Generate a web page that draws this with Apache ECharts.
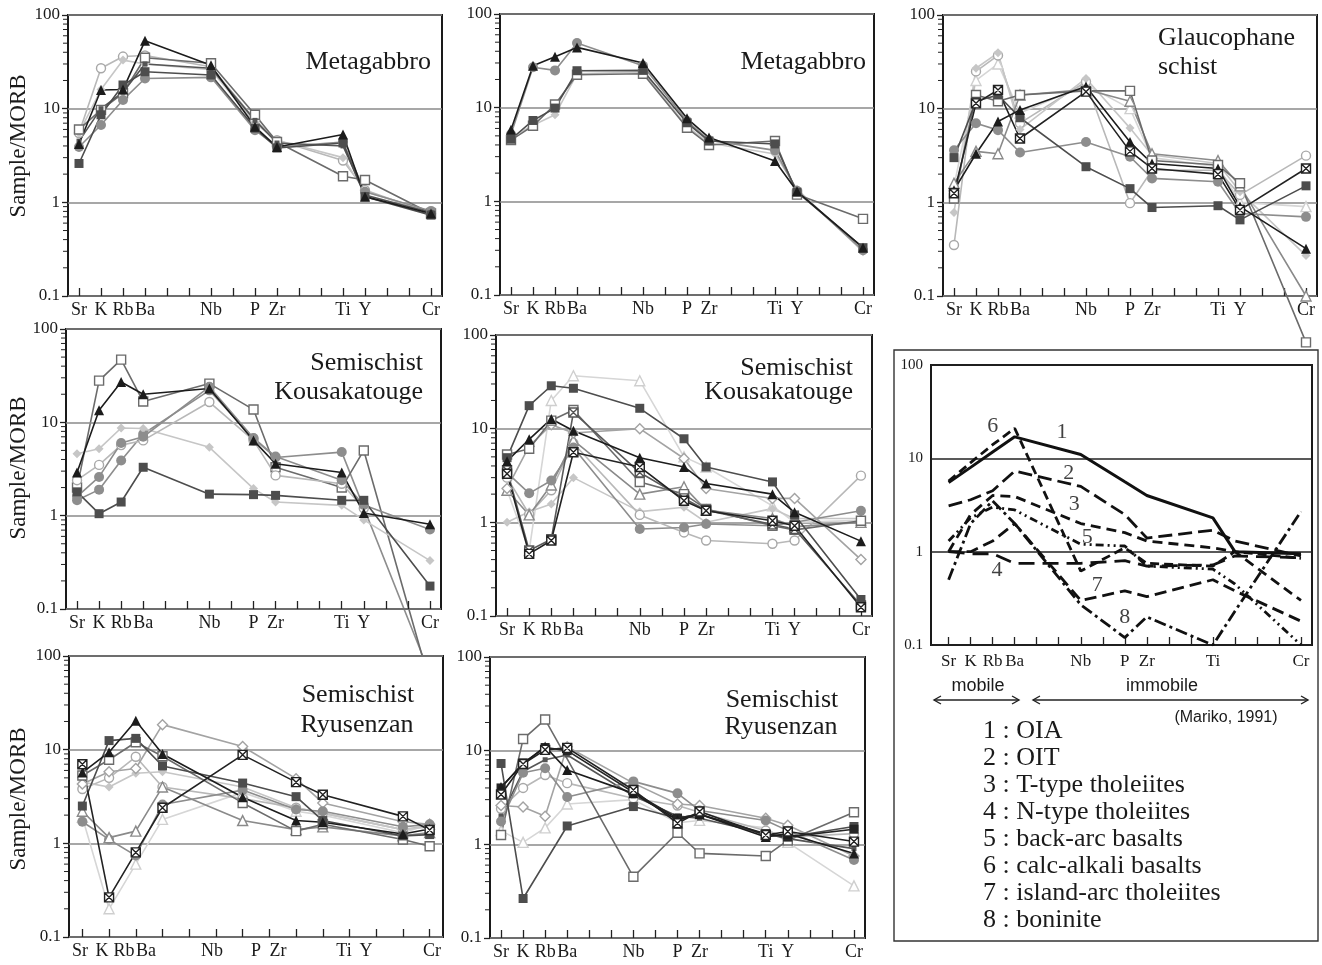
<!DOCTYPE html>
<html>
<head>
<meta charset="utf-8">
<title>MORB-normalized spider diagrams</title>
<script src="https://cdn.jsdelivr.net/npm/echarts@6/dist/echarts.min.js"></script>
<style>
html, body { margin: 0; padding: 0; background: #fff; }
#main { width: 1322px; height: 965px; }
</style>
</head>
<body>
<div id="main"></div>
<script>
// ---- axis layout data ----
var elements = ['Sr', 'K', 'Rb', 'Ba', 'Nb', 'P', 'Zr', 'Ti', 'Y', 'Cr'];
var elemSlots = [0, 1, 2, 3, 6, 8, 9, 12, 13, 16];
var refLabelSlots = [0, 1, 2, 3, 6, 8, 9, 12, 16];      // no Y label on the reference plot
var ryuSlots = [0, 1, 2, 3, 6, 8, 9, 12, 13];           // lower-left panel sits on a 14 slot axis
var ticks17 = [0, 1, 2, 3, 4, 5, 6, 7, 8, 9, 10, 11, 12, 13, 14, 15, 16];
var ticks14 = [0, 1, 2, 3, 4, 5, 6, 7, 8, 9, 10, 11, 12, 13];
var minorTicks = [0.2, 0.3, 0.4, 0.5, 0.6, 0.7, 0.8, 0.9, 2, 3, 4, 5, 6, 7, 8, 9, 20, 30, 40, 50, 60, 70, 80, 90];

// ---- Metagabbro (left) : Sr K Rb Ba Nb P Zr Ti Y Cr ----
var mg1Tri = [4.2, 15.8, 16, 53, 29, 6.4, 3.9, 5.3, 1.15, 0.76];
var mg1Sq  = [2.6, 8.6, 17.9, 24.8, 22.9, 6.2, 3.8, 4.3, 1.15, 0.73];
var mg1Ci  = [3.9, 6.7, 12.4, 21, 21.6, 5.9, 3.9, 4.4, 1.3, 0.81];
var mg1OSq = [6.0, 9.7, 14.6, 35, 30.5, 8.6, 4.4, 1.9, 1.73, 0.76];
var mg1OCi = [5.5, 27, 36, 37, 28, 7.6, 4.6, 2.8, 1.35, 0.76];
var mg1Dia = [5.5, 16, 33, 30, 26, 7.0, 4.6, 3.0, 1.3, 0.8];
var mg1Gy  = [4.5, 10, 15, 30, 27, 7.5, 4.3, 4.0, 1.2, 0.78];

// ---- Metagabbro (middle) ----
var mg2Tri = [5.8, 28, 35, 44, 30, 7.7, 4.8, 2.7, 1.28, 0.32];
var mg2Ci  = [5.2, 27, 25, 49, 28, 7.2, 4.5, 3.5, 1.3, 0.3];
var mg2Sq  = [4.6, 7.3, 9.9, 24.8, 25, 6.9, 4.4, 4.1, 1.25, 0.32];
var mg2OSq = [4.5, 6.4, 10.8, 22.5, 23, 6.1, 4.0, 4.4, 1.18, 0.65];
var mg2Dia = [4.8, 6.5, 8.4, 23, 24, 6.3, 4.2, 3.2, 1.35, 0.29];

// ---- Glaucophane schist ----
var gsXSq  = [1.25, 11.4, 15.8, 4.8, 15.2, 3.5, 2.3, 2.0, 0.83, 2.3];
var gsTri  = [1.35, 3.3, 7.3, 9.7, 17.2, 4.4, 2.6, 2.3, 0.9, 0.32];
var gsSq   = [3.0, 12, 14, 8, 2.4, 1.4, 0.88, 0.92, 0.65, 1.5];
var gsCi   = [3.6, 7.0, 5.9, 3.4, 4.4, 3.07, 1.8, 1.66, 0.76, 0.7];
var gsOCi  = [0.35, 25, 37, 7, 19.4, 0.98, 2.2, 2.2, 1.2, 3.15];
var gsOSq  = [1.1, 14, 12, 14, 15.5, 15.5, 2.8, 2.5, 1.6, 0.032];
var gsOTri = [1.6, 3.5, 3.3, 14, 16, 12, 3.3, 2.8, 1.5, 0.1];
var gsDia  = [0.78, 27, 39.5, 6, 21, 6.2, 3.2, 2.6, 1.3, 0.27];
var gsLt   = [1.5, 20, 30, 9, 18, 10, 3.0, 2.4, 1.0, 0.9];

// ---- Semischist Kousakatouge (left) ----
var sk1OSq = [2.0, 28, 47, 16.7, 26, 13.7, 3.3, 2.0, 5.0, 0.016];
var sk1Tri = [2.9, 13.5, 27, 20, 23, 6.4, 3.6, 2.9, 1.07, 0.81];
var sk1Sq  = [1.8, 1.05, 1.4, 3.3, 1.7, 1.68, 1.65, 1.46, 1.46, 0.176];
var sk1Ci  = [1.46, 1.9, 3.9, 7.5, 22, 6.7, 4.2, 4.8, null, 0.02];
var sk1OCi = [2.4, 3.5, 5.7, 6.4, 16.5, 6.4, 2.7, 2.2, 1.2, null];
var sk1Dia = [4.6, 5.2, 8.7, 8.6, 5.4, 1.95, 1.4, 1.29, 0.9, 0.33];
var sk1Gy  = [1.6, 2.6, 6.0, 7.0, 24, 6.8, 4.3, 2.4, 1.3, 0.71];

// ---- Semischist Kousakatouge (middle) ----
var sk2Sq   = [4.9, 17.6, 28.7, 27, 16.5, 7.8, 3.9, 2.7, 1.2, 0.15];
var sk2Tri  = [4.5, 7.7, 12.7, 9.5, 4.9, 3.9, 2.6, 2.0, 1.28, 0.63];
var sk2XSq  = [3.3, 0.46, 0.64, 5.6, 3.9, 1.7, 1.33, 1.04, 0.92, 0.124];
var sk2XSqB = [3.6, 0.5, 0.66, 14.9, 3.4, 1.8, 1.35, 0.95, 0.85, 0.13];
var sk2OSq  = [5.3, 6.1, 12.2, 15.8, 2.7, 2.0, 1.39, 0.92, 0.83, 1.04];
var sk2Dia  = [2.3, 6.5, 11, 9.0, 10, 4.8, 2.3, 1.8, 1.8, 0.4];
var sk2Ci   = [3.4, 2.04, 2.8, 6.3, 0.85, 0.88, 0.96, 0.92, 1.0, 1.33];
var sk2OCi  = [3.0, 1.22, 2.2, 7.0, 1.2, 0.78, 0.64, 0.59, 0.64, 3.15];
var sk2Lt   = [2.2, 0.5, 20, 36.7, 32.5, 5.0, 3.9, 1.5, 1.0, 1.05];
var sk2LDia = [1.0, 1.3, 1.57, 3.0, 1.3, 1.45, 1.0, 1.4, 1.1, 1.1];
var sk2OTri = [2.2, 1.2, 2.5, 7.5, 2.0, 2.4, 1.35, 1.1, 0.9, 1.0];

// ---- Semischist Ryusenzan (left), 9 values on ryuSlots ----
var ry1Tri  = [5.7, 9.4, 20.4, 9.0, 3.1, 1.75, 1.68, 1.26, 1.42];
var ry1Sq   = [2.5, 12.5, 13.2, 6.7, 4.4, 3.15, 1.75, 1.2, 1.24];
var ry1XSq  = [7.0, 0.265, 0.8, 2.4, 8.8, 4.5, 3.3, 1.94, 1.39];
var ry1ODia = [4.3, 5.8, 6.3, 18.5, 10.8, 4.9, 2.7, 1.7, 1.6];
var ry1Ci   = [1.7, 1.1, 0.74, 2.6, 3.7, 2.3, 2.2, 1.5, 1.6];
var ry1OTri = [2.2, 1.15, 1.35, 4.0, 1.75, 1.4, 1.5, 1.2, 1.3];
var ry1OCi  = [3.8, 5.0, 8.4, 4.0, 3.0, 2.4, 2.1, 1.4, 1.55];
var ry1Dia  = [4.5, 4.0, 5.6, 5.8, 4.0, 2.4, 2.1, 1.4, 1.5];
var ry1Lt   = [1.9, 0.2, 0.6, 1.8, 3.5, 2.2, 2.0, 1.3, 1.6];
var ry1OSq  = [5.3, 7.8, 12, 8.5, 2.7, 1.35, 1.6, 1.1, 0.93];

// ---- Semischist Ryusenzan (middle) ----
var ry2Tri  = [4.1, 7.2, 11.1, 6.2, 3.5, 1.82, 2.1, 1.2, 1.3, 0.8];
var ry2XSq  = [3.4, 7.2, 10.2, 10.7, 3.8, 1.68, 2.24, 1.26, 1.37, 1.07];
var ry2Sq   = [7.3, 0.264, null, 1.57, 2.53, 1.9, 2.1, 1.25, 1.2, 1.55];
var ry2SqK  = [4.0, 7.4, 10.8, 10.0, 3.6, 1.9, 2.1, 1.3, 1.2, 1.45];
var ry2OSq  = [1.26, 13.3, 21.5, null, 0.45, 1.33, 0.8, 0.75, 1.1, 2.2];
var ry2Ci   = [1.75, 5.8, 6.5, 3.2, 4.7, 3.5, 2.3, 1.8, 1.4, 0.68];
var ry2ODia = [2.6, 2.5, 2.0, 11, 4.5, 2.7, 2.6, 1.9, 1.6, 0.75];
var ry2OCi  = [2.4, 4.0, 5.5, 4.5, 3.1, 2.6, 2.2, 1.4, 1.2, 1.3];
var ry2Lt   = [1.4, 1.05, 1.5, 2.7, 3.0, 1.7, 1.8, 1.5, 1.05, 0.36];
var ry2Gy   = [2.0, 6.0, 8.0, 9.0, 3.3, 2.0, 1.9, 1.3, 1.15, 0.9];

// ---- reference patterns (Mariko, 1991) ----
var ref1 = [5.5, 8.0, 11.7, 17, 11, 5.6, 4.0, 2.3, 1.0, 0.95];
var ref2 = [3.1, 3.6, 4.5, 7.3, 5.0, 2.5, 1.4, 1.7, 1.3, 0.9];
var ref3 = [1.0, 2.5, 4.0, 3.9, 2.0, 1.6, 1.3, 1.1, 1.0, 0.3];
var ref4 = [1.0, 0.95, 0.95, 0.75, 0.75, 0.8, 0.7, 0.72, 0.9, 0.86];
var ref5 = [1.3, 2.3, 3.0, 2.8, 1.2, 1.15, 0.7, 0.65, 0.45, 0.1];
var ref6 = [5.7, 9.0, 14, 21, 0.62, 1.1, 0.75, 0.7, 1.0, 0.85];
var ref7 = [1.0, 1.0, 1.3, 2.0, 0.3, 0.38, 0.33, 0.5, 0.38, 0.18];
var ref8 = [0.5, 2.0, 3.5, 2.0, 0.27, 0.12, 0.2, 0.1, 0.23, 2.7];
var refNames = ['1 : OIA', '2 : OIT', '3 : T-type tholeiites', '4 : N-type tholeiites',
    '5 : back-arc basalts', '6 : calc-alkali basalts', '7 : island-arc tholeiites', '8 : boninite'];
var refNumText = ['6', '1', '2', '3', '5', '4', '7', '8'];
var refNumSlot = [2.0, 5.15, 5.45, 5.7, 6.3, 2.2, 6.75, 8.0];
var refNumVal  = [22, 19, 7, 3.2, 1.44, 0.64, 0.44, 0.2];

// ---- looks ----
var XSQ = 'path://M0,0L10,0L10,10L0,10Z M0,0L10,10 M10,0L0,10';
var looks = {
    tri:  { symbol: 'triangle', size: 10, line: '#1c1c1c', fill: '#1c1c1c' },
    sq:   { symbol: 'rect', size: 9, line: '#4d4d4d', fill: '#4d4d4d' },
    sqk:  { symbol: 'rect', size: 9, line: '#262626', fill: '#262626' },
    ci:   { symbol: 'circle', size: 10, line: '#8d8d8d', fill: '#8d8d8d' },
    osq:  { symbol: 'rect', size: 9, line: '#6b6b6b', fill: '#fff', stroke: '#6b6b6b' },
    oci:  { symbol: 'circle', size: 9, line: '#b8b8b8', fill: '#fff', stroke: '#a8a8a8' },
    dia:  { symbol: 'diamond', size: 9, line: '#c6c6c6', fill: '#c6c6c6' },
    odia: { symbol: 'diamond', size: 10, line: '#a3a3a3', fill: '#fff', stroke: '#a3a3a3' },
    otri: { symbol: 'triangle', size: 10, line: '#8a8a8a', fill: '#fff', stroke: '#8a8a8a' },
    lt:   { symbol: 'triangle', size: 10, line: '#d6d6d6', fill: '#fff', stroke: '#cfcfcf' },
    xsq:  { symbol: XSQ, size: 9, line: '#222', fill: '#fff', stroke: '#222' },
    xsqg: { symbol: XSQ, size: 9, line: '#5a5a5a', fill: '#fff', stroke: '#555' },
    gy:   { symbol: 'rect', size: 5, line: '#555', fill: '#555' }
};
var refDash = ['solid', [14, 6], [10, 6], [16, 8], [8, 4, 2, 4, 2, 4], [9, 5], [12, 6], [12, 4, 3, 4]];

var serif = '"Liberation Serif", "DejaVu Serif", serif';
var sans = '"Liberation Sans", Arial, sans-serif';

var panels = [
    { box: [68, 15, 374, 281], lines: [[mg1OCi, 'oci'], [mg1Dia, 'dia'], [mg1OSq, 'osq'], [mg1Ci, 'ci'], [mg1Gy, 'gy'], [mg1Sq, 'sq'], [mg1Tri, 'tri']] },
    { box: [500, 14, 374, 281], lines: [[mg2Dia, 'dia'], [mg2OSq, 'osq'], [mg2Ci, 'ci'], [mg2Sq, 'sq'], [mg2Tri, 'tri']] },
    { box: [943, 15, 374, 281], lines: [[gsLt, 'lt'], [gsOCi, 'oci'], [gsDia, 'dia'], [gsOTri, 'otri'], [gsCi, 'ci'], [gsOSq, 'osq', true], [gsSq, 'sq'], [gsTri, 'tri'], [gsXSq, 'xsq']] },
    { box: [66, 329, 375, 280], bg: 'rgba(0,0,0,0)', lines: [[sk1Dia, 'dia'], [sk1OCi, 'oci'], [sk1Gy, 'ci'], [sk1Ci, 'ci', true], [sk1Sq, 'sq'], [sk1OSq, 'osq', true], [sk1Tri, 'tri']] },
    { box: [496, 335, 376, 281], lines: [[sk2Lt, 'lt'], [sk2LDia, 'dia'], [sk2OCi, 'oci'], [sk2OTri, 'otri'], [sk2Ci, 'ci'], [sk2Dia, 'odia'], [sk2OSq, 'osq'], [sk2XSqB, 'xsqg'], [sk2Sq, 'sq'], [sk2Tri, 'tri'], [sk2XSq, 'xsq']] },
    { box: [69, 656, 374, 281], ryu: true, lines: [[ry1Lt, 'lt'], [ry1OCi, 'oci'], [ry1Dia, 'dia'], [ry1ODia, 'odia'], [ry1Ci, 'ci'], [ry1OTri, 'otri'], [ry1OSq, 'osq'], [ry1Sq, 'sq'], [ry1Tri, 'tri'], [ry1XSq, 'xsq']] },
    { box: [490, 657, 375, 281], lines: [[ry2Lt, 'lt'], [ry2OCi, 'oci'], [ry2ODia, 'odia'], [ry2Gy, 'gy'], [ry2Ci, 'ci'], [ry2OSq, 'osq'], [ry2Sq, 'sq'], [ry2SqK, 'sqk'], [ry2Tri, 'tri'], [ry2XSq, 'xsq']] }
];

var slotName = {};
elemSlots.forEach(function (s, i) { slotName[s] = elements[i]; });

var option = {
    animation: false,
    backgroundColor: '#fff',
    grid: [], xAxis: [], yAxis: [], series: [], graphic: []
};

function pairUp(slots, vals) {
    var pts = [];
    vals.forEach(function (v, j) { if (v !== null) pts.push([slots[j], v]); });
    return pts;
}

var noLine = { show: false, onZero: false };
var g = option.graphic;
function seg(x1, y1, x2, y2, w) {
    g.push({ type: 'line', silent: true, z: 10, shape: { x1: x1, y1: y1, x2: x2, y2: y2 }, style: { stroke: '#222', lineWidth: w || 1.4 } });
}

function addPanel(p, gi) {
    option.grid.push({
        left: p.box[0], top: p.box[1], width: p.box[2], height: p.box[3],
        show: true, borderColor: '#1a1a1a', borderWidth: 2,
        backgroundColor: p.bg || '#fff'
    });
    var labelAxis = {
        type: 'value', gridIndex: gi, position: 'bottom', min: -0.5, max: 16.5,
        axisLine: noLine, splitLine: { show: false },
        axisTick: { show: true, inside: true, length: 8, customValues: ticks17, lineStyle: { color: '#222', width: 1.3 } },
        axisLabel: { customValues: elemSlots, margin: 5, fontFamily: serif, fontSize: 18, color: '#1a1a1a',
            formatter: function (v) { return slotName[v] || ''; } }
    };
    var dataX = option.xAxis.length;
    option.xAxis.push(labelAxis);
    if (p.ryu) {
        labelAxis.axisTick = { show: false };
        dataX = option.xAxis.length;
        option.xAxis.push({
            type: 'value', gridIndex: gi, position: 'bottom', min: -0.5, max: 13.5,
            axisLine: noLine, splitLine: { show: false }, axisLabel: { show: false },
            axisTick: { show: true, inside: true, length: 8, customValues: ticks14, lineStyle: { color: '#222', width: 1.3 } }
        });
    }
    var yi = option.yAxis.length;
    option.yAxis.push({
        type: 'log', logBase: 10, gridIndex: gi, position: 'left', min: 0.1, max: 100,
        axisLine: noLine,
        axisTick: { show: true, length: 6, lineStyle: { color: '#222', width: 1.3 } },
        axisLabel: { margin: 8, fontFamily: serif, fontSize: 17, color: '#1a1a1a',
            formatter: function (v) { return String(+(+v).toPrecision(2)); } },
        splitLine: { show: true, lineStyle: { color: '#8a8a8a', width: 1.6 } }
    });
    // small log ticks on the outside of the left frame (0.1 .. 100 spans 3 decades)
    minorTicks.forEach(function (m) {
        var y = p.box[1] + p.box[3] * (2 - Math.log10(m)) / 3;
        seg(p.box[0] - 5, y, p.box[0] - 1, y, 1);
    });
    p.lines.forEach(function (ln) {
        var lk = looks[ln[1]];
        option.series.push({
            type: 'line', xAxisIndex: dataX, yAxisIndex: yi,
            data: pairUp(p.ryu ? ryuSlots : elemSlots, ln[0]),
            symbol: lk.symbol, symbolSize: lk.size, showAllSymbol: true,
            lineStyle: { color: lk.line, width: 1.6 },
            itemStyle: { color: lk.fill, borderColor: lk.stroke || lk.fill, borderWidth: lk.stroke ? 1.4 : 0 },
            clip: !ln[2], z: ln[2] && p.bg ? -1 : 2,
            silent: true, emphasis: { disabled: true }
        });
    });
}

panels.forEach(addPanel);

// ---- reference plot ----
var rg = option.grid.length;
option.grid.push({ left: 931, top: 365, width: 381, height: 280, show: true, borderColor: '#1a1a1a', borderWidth: 2, backgroundColor: '#fff' });
var rx = option.xAxis.length;
option.xAxis.push({
    type: 'value', gridIndex: rg, position: 'bottom', min: -0.8, max: 16.5,
    axisLine: noLine, splitLine: { show: false },
    axisTick: { show: true, inside: true, length: 8, customValues: ticks17, lineStyle: { color: '#222', width: 1.3 } },
    axisLabel: { customValues: refLabelSlots, margin: 8, fontFamily: serif, fontSize: 17, color: '#1a1a1a',
        formatter: function (v) { return slotName[v] || ''; } }
});
var ry = option.yAxis.length;
option.yAxis.push({
    type: 'log', logBase: 10, gridIndex: rg, position: 'left', min: 0.1, max: 100,
    axisLine: noLine, axisTick: { show: false },
    axisLabel: { margin: 8, fontFamily: serif, fontSize: 15, color: '#1a1a1a',
        formatter: function (v) { return String(+(+v).toPrecision(2)); } },
    splitLine: { show: true, lineStyle: { color: '#222', width: 1.6 } }
});
[ref8, ref7, ref6, ref5, ref4, ref3, ref2, ref1].forEach(function (vals, k) {
    var n = 7 - k;
    option.series.push({
        type: 'line', xAxisIndex: rx, yAxisIndex: ry, data: pairUp(elemSlots, vals),
        symbol: 'none', lineStyle: { color: '#111', width: n === 0 ? 3 : 2.8, type: refDash[n] },
        silent: true, emphasis: { disabled: true }
    });
});
option.series.push({
    type: 'scatter', xAxisIndex: rx, yAxisIndex: ry, symbolSize: 0, silent: true,
    data: refNumText.map(function (t, i) { return { name: t, value: [refNumSlot[i], refNumVal[i]] }; }),
    label: { show: true, position: 'inside', formatter: '{b}', fontFamily: serif, fontSize: 22, color: '#111' }
});

// ---- text and frames ----
function txt(x, y, s, size, align, font, rot) {
    g.push({ type: 'text', x: x, y: y, rotation: rot || 0, silent: true, z: 10,
        style: { text: s, fontFamily: font || serif, fontSize: size, fill: '#1a1a1a', align: align || 'left', verticalAlign: 'middle' } });
}
[146, 468, 799].forEach(function (y) { txt(19, y, 'Sample/MORB', 23, 'center', serif, Math.PI / 2); });
txt(431, 62, 'Metagabbro', 26, 'right');
txt(866, 62, 'Metagabbro', 26, 'right');
txt(1158, 38, 'Glaucophane', 26, 'left');
txt(1158, 67, 'schist', 26, 'left');
txt(423, 363, 'Semischist', 26, 'right');
txt(423, 392, 'Kousakatouge', 26, 'right');
txt(853, 368, 'Semischist', 26, 'right');
txt(853, 392, 'Kousakatouge', 26, 'right');
txt(358, 695, 'Semischist', 26, 'center');
txt(357, 725, 'Ryusenzan', 26, 'center');
txt(782, 700, 'Semischist', 26, 'center');
txt(781, 727, 'Ryusenzan', 26, 'center');

g.push({ type: 'rect', silent: true, z: 10, shape: { x: 894, y: 350, width: 424, height: 591 },
    style: { fill: 'none', stroke: '#333', lineWidth: 1.4 } });
txt(978, 686, 'mobile', 18, 'center', sans);
txt(1162, 686, 'immobile', 18, 'center', sans);
txt(1226, 718, '(Mariko, 1991)', 16, 'center', sans);
function arrow(x1, x2, y) {
    seg(x1, y, x2, y);
    g.push({ type: 'polyline', silent: true, z: 10, shape: { points: [[x1 + 7, y - 4], [x1, y], [x1 + 7, y + 4]] }, style: { stroke: '#222', fill: 'none', lineWidth: 1.4 } });
    g.push({ type: 'polyline', silent: true, z: 10, shape: { points: [[x2 - 7, y - 4], [x2, y], [x2 - 7, y + 4]] }, style: { stroke: '#222', fill: 'none', lineWidth: 1.4 } });
}
arrow(934, 1019, 700);
arrow(1033, 1308, 700);
refNames.forEach(function (s, i) { txt(983, 731 + i * 27, s, 26, 'left'); });

var chart = echarts.init(document.getElementById('main'), null, { renderer: 'canvas' });
chart.setOption(option);
</script>
</body>
</html>
